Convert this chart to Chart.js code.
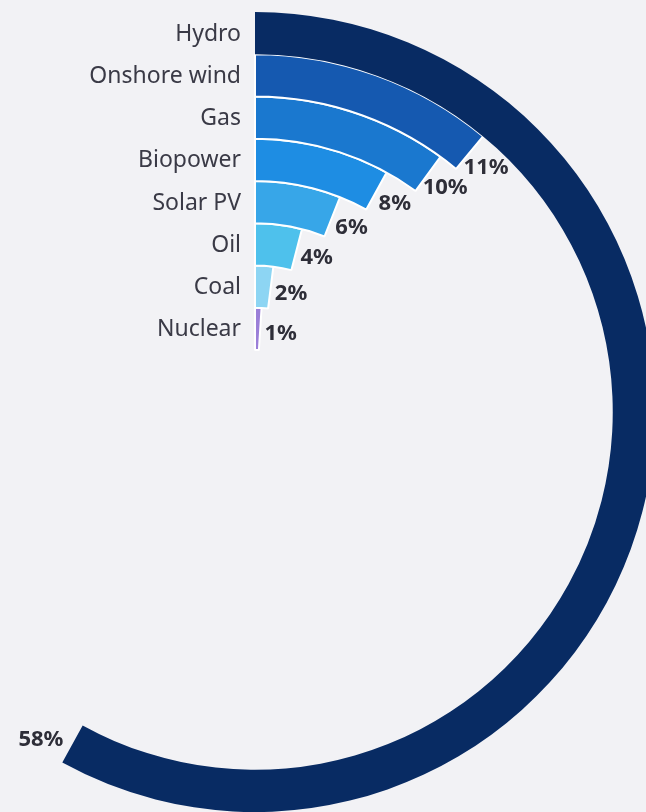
<!DOCTYPE html>
<html>
<head>
<meta charset="utf-8">
<script src="https://cdn.jsdelivr.net/npm/chart.js@4.4.1/dist/chart.umd.min.js"></script>
<style>
  html, body { margin: 0; padding: 0; background: #f2f2f5; overflow: hidden; }
  #wrap { position: relative; width: 646px; height: 812px; }
</style>
</head>
<body>
<div id="wrap"><canvas id="radial"></canvas></div>
<script>
const categories = ['Hydro', 'Onshore wind', 'Gas', 'Biopower', 'Solar PV', 'Oil', 'Coal', 'Nuclear'];
const shares = [58, 11, 10, 8, 6, 4, 2, 1];
const valueLabels = ['58%', '11%', '10%', '8%', '6%', '4%', '2%', '1%'];
const colors = ['#082b63', '#1559b0', '#1a78cf', '#1e8de3', '#37a6e8', '#4ec1ec', '#8dd5f3', '#9b7fd8'];

const textColor = '#2e2e38';

// one ring per category: the value arc plus an invisible remainder
const datasets = categories.map((c, i) => ({
    label: c,
    data: [shares[i], 100 - shares[i]],
    backgroundColor: [colors[i], 'rgba(0,0,0,0)'],
    borderColor: ['#ffffff', 'rgba(0,0,0,0)'],
    borderWidth: [i === 0 ? 0 : 2, 0],
    clip: false
}));

const ringLabels = {
    id: 'ringLabels',
    afterDatasetsDraw(chart) {
        const ctx = chart.ctx;
        ctx.save();
        chart.data.datasets.forEach((ds, i) => {
            const arc = chart.getDatasetMeta(i).data[0];
            const p = arc.getProps(['x', 'y', 'startAngle', 'endAngle', 'innerRadius', 'outerRadius'], true);
            const mid = (p.innerRadius + p.outerRadius) / 2;

            // category name left of the ring start
            ctx.font = '23px "Noto Sans", sans-serif';
            ctx.fillStyle = '#3a3a46';
            ctx.textAlign = 'right';
            ctx.textBaseline = 'middle';
            ctx.fillText(categories[i], p.x - 14, p.y - mid + 1);

            // value just past the arc end
            ctx.font = 'bold 22px "Noto Sans", sans-serif';
            ctx.fillStyle = textColor;
            const a = p.endAngle;
            const ex = p.x + Math.cos(a) * mid;
            const ey = p.y + Math.sin(a) * mid;
            const tx = -Math.sin(a), ty = Math.cos(a);
            const ly = ey + ty * 17.5 + 4;
            if (tx >= 0) {
                ctx.textAlign = 'center';
                ctx.fillText(valueLabels[i], ex + tx * 17.5 + 3, ly);
            } else {
                ctx.textAlign = 'right';
                ctx.fillText(valueLabels[i], ex + tx * 8 - 2, ly);
            }
        });
        ctx.restore();
    }
};

new Chart(document.getElementById('radial'), {
    type: 'doughnut',
    data: { labels: ['value', 'rest'], datasets: datasets },
    options: {
        responsive: true,
        maintainAspectRatio: false,
        animation: false,
        radius: 400,
        cutout: '15.5%',
        layout: { padding: { left: 0, right: 136, top: 12, bottom: 0 } },
        events: [],
        plugins: {
            legend: { display: false },
            tooltip: { enabled: false }
        }
    },
    plugins: [ringLabels]
});
</script>
</body>
</html>
